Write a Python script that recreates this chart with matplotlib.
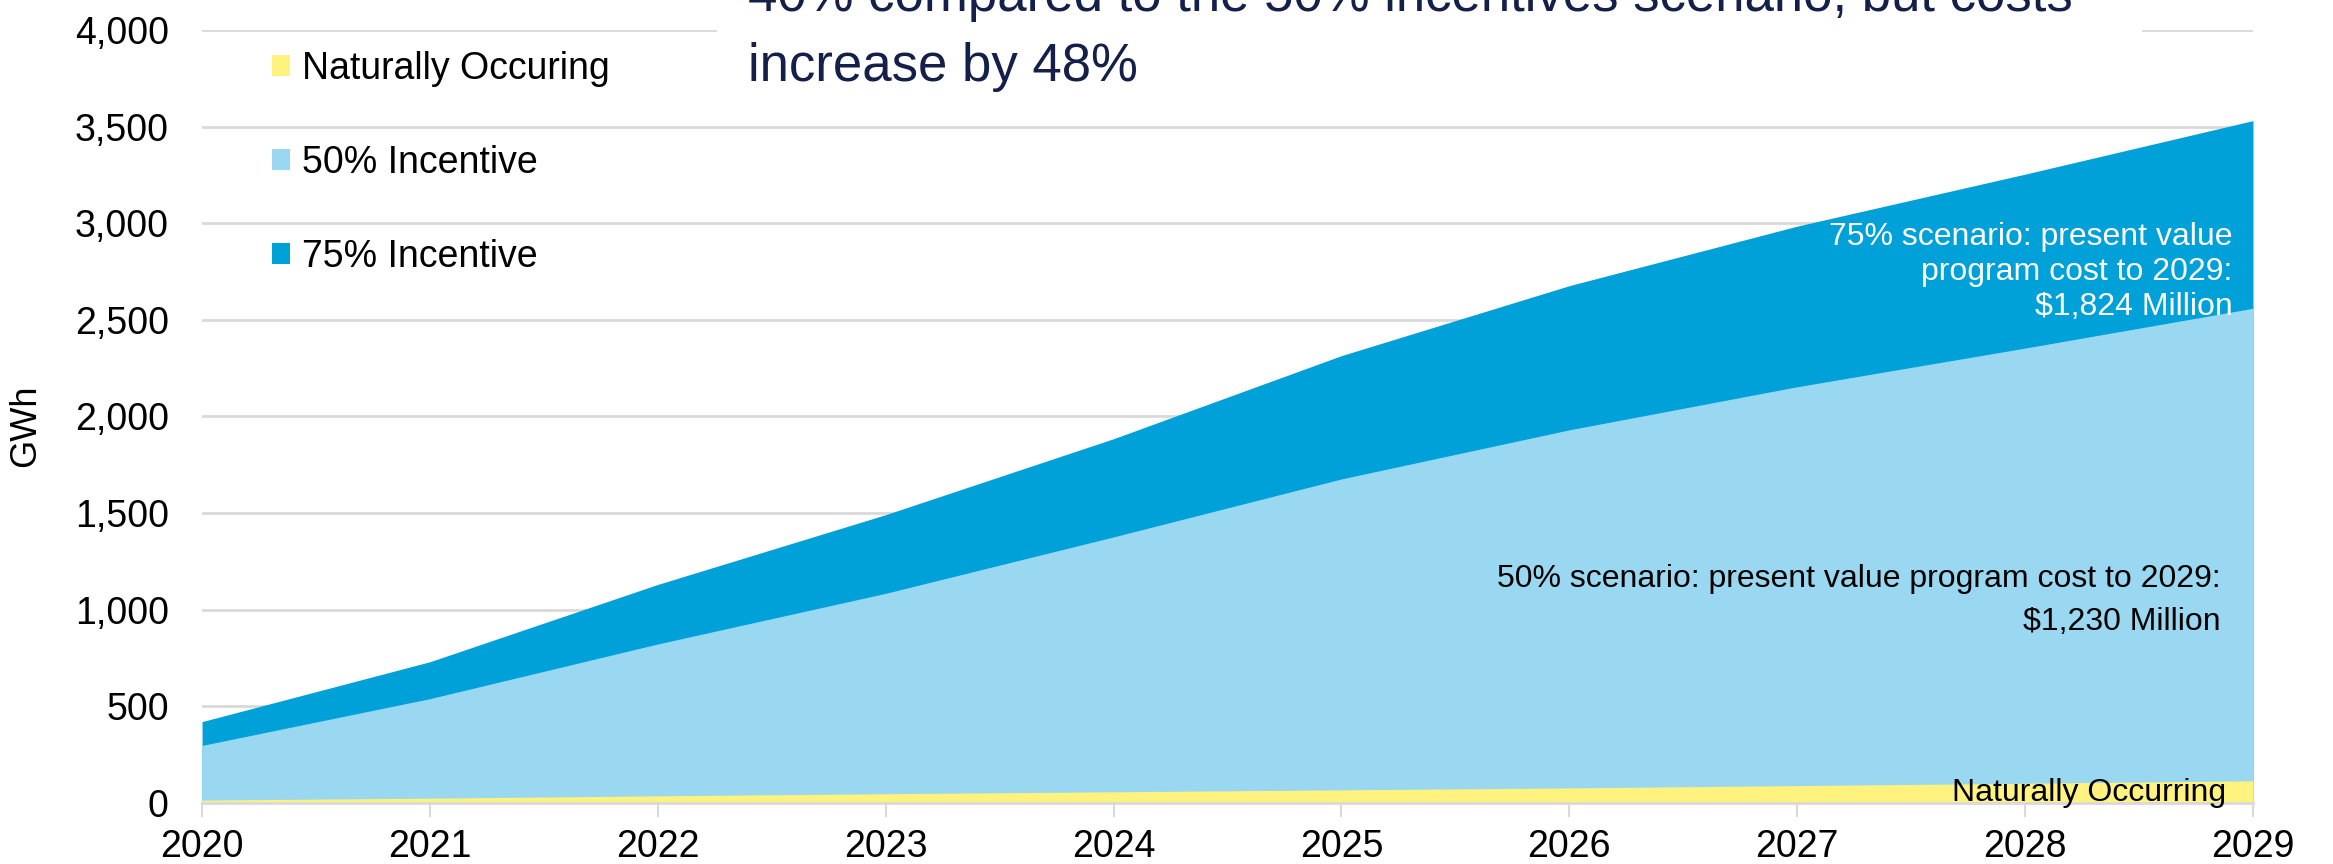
import matplotlib
matplotlib.use("Agg")
import matplotlib.pyplot as plt
from matplotlib.patches import Patch, Rectangle
from matplotlib.ticker import FuncFormatter, MultipleLocator

years = [2020, 2021, 2022, 2023, 2024, 2025, 2026, 2027, 2028, 2029]
naturally_occurring = [15, 25, 37, 48, 58, 68, 78, 90, 102, 115]
incentive_50 = [298, 540, 823, 1085, 1377, 1677, 1931, 2154, 2354, 2560]
incentive_75 = [421, 731, 1131, 1492, 1885, 2315, 2677, 2985, 3254, 3531]

series_labels = ["Naturally Occuring", "50% Incentive", "75% Incentive"]
colors = ["#FFF27E", "#99D8F0", "#00A0D9"]

plt.rcParams["font.family"] = ["Liberation Sans", "DejaVu Sans"]

fig = plt.figure(figsize=(23.33, 8.64), dpi=100)
ax = fig.add_axes([0.0866, 0.0706, 0.9657 - 0.0866, 0.9653 - 0.0706])

ax.fill_between(years, 0, incentive_75, color=colors[2], lw=0, zorder=2)
ax.fill_between(years, 0, incentive_50, color=colors[1], lw=0, zorder=3)
ax.fill_between(years, 0, naturally_occurring, color=colors[0], lw=0, zorder=4)

ax.set_xlim(2020, 2029)
ax.set_ylim(0, 4000)
ax.set_xticks(years)
ax.yaxis.set_major_locator(MultipleLocator(500))
ax.yaxis.set_major_formatter(FuncFormatter(lambda v, p: f"{int(v):,}"))
ax.grid(axis="y", color="#D9D9D9", lw=2, zorder=1)
ax.set_axisbelow(True)
for s in ["top", "right", "left"]:
    ax.spines[s].set_visible(False)
ax.spines["bottom"].set_color("#D9D9D9")
ax.spines["bottom"].set_linewidth(2)
ax.spines["bottom"].set_zorder(5)
ax.tick_params(axis="x", length=10, width=1.5, color="#D9D9D9", labelsize=27, pad=9)
ax.tick_params(axis="y", length=0, labelsize=27, pad=24)
ax.set_ylabel("GWh", fontsize=26)
ax.yaxis.set_label_coords(-0.0775, 0.4877)

handles = [Patch(facecolor=c, edgecolor="none") for c in colors]
leg = ax.legend(handles, series_labels, loc="upper left", bbox_to_anchor=(0.0176, 1.017),
                frameon=False, fontsize=27, handlelength=0.48, handleheight=0.5,
                handletextpad=0.32, labelspacing=1.55)

# annotations
ax.text(2028.91, 2746, "75% scenario: present value\nprogram cost to 2029:\n$1,824 Million",
        ha="right", va="center", color="white", fontsize=23, linespacing=1.21, zorder=6)
ax.text(2028.86, 1050, "50% scenario: present value program cost to 2029:\n$1,230 Million",
        ha="right", va="center", color="black", fontsize=23, linespacing=1.57, zorder=6)
ax.text(2028.88, 52, "Naturally Occurring", ha="right", va="center", color="black",
        fontsize=23, zorder=6)

# title box at top
fig.add_artist(Rectangle((717 / 2333, 1 - 95 / 864), (2142 - 717) / 2333, 95 / 864,
                         transform=fig.transFigure, facecolor="white", edgecolor="none", zorder=1))
fig.text(748 / 2333, 1 - 11 / 864, "40% compared to the 50% incentives scenario, but costs",
         ha="left", va="baseline", color="#14204A", fontsize=38, zorder=3)
fig.text(748 / 2333, 1 - 81 / 864, "increase by 48%",
         ha="left", va="baseline", color="#14204A", fontsize=38, zorder=3)

fig.savefig("out.png", dpi=100)
